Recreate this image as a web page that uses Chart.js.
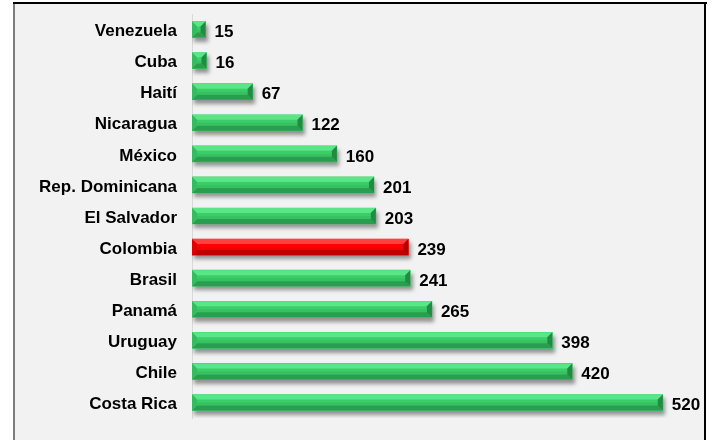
<!DOCTYPE html>
<html>
<head>
<meta charset="utf-8">
<script src="https://cdn.jsdelivr.net/npm/chart.js@4/dist/chart.umd.min.js"></script>
<style>
html,body{margin:0;padding:0;background:#fff;}
canvas{display:block;}
</style>
</head>
<body>
<canvas id="c" width="715" height="440"></canvas>
<script>
const categories = ["Venezuela","Cuba","Haití","Nicaragua","México","Rep. Dominicana","El Salvador","Colombia","Brasil","Panamá","Uruguay","Chile","Costa Rica"];
const values = [15,16,67,122,160,201,203,239,241,265,398,420,520];
const highlight = "Colombia";

const FONT = "'Liberation Sans', Arial, sans-serif";

const framePlugin = {
  id: 'frame',
  beforeDraw(chart) {
    const ctx = chart.ctx;
    ctx.save();
    ctx.fillStyle = '#ffffff';
    ctx.fillRect(0, 0, chart.width, chart.height);
    ctx.fillStyle = '#f2f2f2';
    ctx.fillRect(14, 3, 691, 440);
    ctx.fillStyle = '#7f7f7f';
    ctx.fillRect(13, 2, 2, 440);
    ctx.fillStyle = '#000000';
    ctx.fillRect(13, 2, 694, 2);
    ctx.fillRect(704, 2, 2, 440);
    ctx.restore();
  }
};

function shade(isRed) {
  return isRed
    ? { top: '#ff4040', bottom: '#c00000', right: '#b00000', left: '#e00000', low: 'rgba(150,0,0,0.12)' }
    : { top: '#58e686', bottom: '#2a9e50', right: '#228a42', left: '#35bb60', low: 'rgba(0,60,20,0.07)' };
}

const bevelPlugin = {
  id: 'bevel',
  beforeDatasetsDraw(chart) {
    const ctx = chart.ctx;
    ctx.save();
    ctx.shadowColor = 'rgba(0,0,0,0.4)';
    ctx.shadowBlur = 4;
    ctx.shadowOffsetX = 2;
    ctx.shadowOffsetY = 4;
  },
  afterDatasetsDraw(chart) {
    const ctx = chart.ctx;
    ctx.restore();
    const meta = chart.getDatasetMeta(0);
    meta.data.forEach((bar, i) => {
      const p = bar.getProps(['x','y','base','height'], true);
      const left = Math.min(p.base, p.x), right = Math.max(p.base, p.x);
      const top = p.y - p.height / 2, bottom = p.y + p.height / 2;
      const b = Math.min(5, (right - left) / 2);
      const c = shade(categories[i] === highlight);
      ctx.save();
      const poly = (pts, col) => {
        ctx.beginPath();
        ctx.moveTo(pts[0][0], pts[0][1]);
        for (let k = 1; k < pts.length; k++) ctx.lineTo(pts[k][0], pts[k][1]);
        ctx.closePath();
        ctx.fillStyle = col;
        ctx.fill();
      };
      const mid = top + (bottom - top) * 0.5;
      ctx.fillStyle = c.low;
      ctx.fillRect(left + b, mid, right - left - 2 * b, bottom - b - mid);
      poly([[left, top], [right, top], [right - b, top + b], [left + b, top + b]], c.top);
      poly([[left, bottom], [right, bottom], [right - b, bottom - b], [left + b, bottom - b]], c.bottom);
      poly([[right, top], [right, bottom], [right - b, bottom - b], [right - b, top + b]], c.right);
      poly([[left, top], [left, bottom], [left + b, bottom - b], [left + b, top + b]], c.left);
      ctx.restore();

      ctx.save();
      ctx.font = 'bold 17px ' + FONT;
      ctx.fillStyle = '#000';
      ctx.textAlign = 'left';
      ctx.textBaseline = 'middle';
      ctx.fillText(String(values[i]), right + 9, p.y + 3);
      ctx.restore();
    });
  }
};

new Chart(document.getElementById('c'), {
  type: 'bar',
  data: {
    labels: categories,
    datasets: [{
      data: values,
      backgroundColor: categories.map(c => c === highlight ? '#ff0000' : '#3ccd69'),
      borderWidth: 0,
      barThickness: 16
    }]
  },
  options: {
    indexAxis: 'y',
    responsive: false,
    animation: false,
    devicePixelRatio: 1,
    layout: { padding: { top: 14, bottom: 22, right: 16, left: 0 } },
    plugins: { legend: { display: false }, tooltip: { enabled: false } },
    scales: {
      x: {
        display: false,
        min: 0,
        max: 560,
        grid: { display: false }
      },
      y: {
        afterFit(scale) { scale.width = 192; scale.paddingTop = 0; scale.paddingBottom = 0; },
        grid: { display: false, drawTicks: false },
        border: { display: true, color: '#d9d9d9', width: 1 },
        ticks: {
          color: '#000',
          padding: 15,
          labelOffset: 2,
          font: { family: FONT, size: 17, weight: 'bold' }
        }
      }
    }
  },
  plugins: [framePlugin, bevelPlugin]
});
</script>
</body>
</html>
